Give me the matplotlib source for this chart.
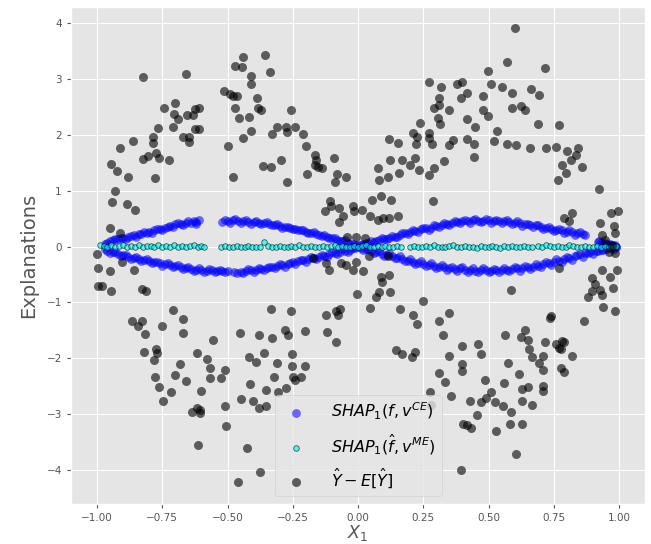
import matplotlib
matplotlib.use("Agg")
import matplotlib.pyplot as plt

# ---- data: Y_hat - E[Y_hat] (black) ----
bx1 = [-0.824,-0.658,-0.946,-0.923,-0.911,-0.863,-0.882,-0.931,-0.942,-0.887,-0.853,-0.951,-0.911,-0.824,-0.806,-0.786,-0.785,-0.773,-0.764,-0.777,-0.767,-0.744,-0.723,-0.700,-0.707,-0.691,-0.709,-0.672,-0.655,-0.649,-0.647,-0.631,-0.624,-0.611,-0.626,-0.611,-0.512,-0.490,-0.481,-0.465,-0.471,-0.446,-0.442,-0.409,-0.409,-0.389,-0.471,-0.455,-0.416,-0.384,-0.373,-0.412,-0.440,-0.497,-0.478,-0.356,-0.338,-0.363,-0.335,-0.329,-0.312,-0.277,-0.272,-0.258,-0.243,-0.211,-0.198,-0.297,-0.274,-0.195,-0.165,-0.160,-0.166,-0.153,-0.137,-0.092,-0.079,-0.087,-0.048,-0.109,-0.125,-0.102,-0.073,-0.058,-0.073,-0.020,-0.016,-0.043,-0.007]
by1 = [3.03,3.10,1.48,1.35,1.77,1.89,1.25,1.00,0.79,0.76,0.66,0.34,0.24,1.57,1.63,1.97,1.85,1.67,1.58,1.22,2.12,2.48,1.56,2.57,2.37,2.29,2.15,1.96,2.35,1.97,1.87,2.36,2.46,2.49,2.10,2.11,2.79,2.73,2.69,2.69,3.24,3.21,3.40,3.06,2.91,2.66,2.48,2.30,2.32,2.49,2.45,2.07,1.94,1.81,1.25,3.43,3.13,1.45,1.42,2.01,2.15,2.15,2.06,2.45,2.14,2.01,1.81,1.55,1.16,1.30,1.64,1.55,1.46,1.43,1.40,1.58,1.30,1.16,1.24,0.82,0.64,0.72,0.70,0.55,0.44,0.73,0.64,0.17,0.17]
bx2 = [0.601,0.572,0.718,0.496,0.270,0.317,0.381,0.398,0.508,0.553,0.588,0.664,0.695,0.419,0.394,0.479,0.311,0.292,0.311,0.347,0.479,0.499,0.588,0.623,0.640,0.308,0.313,0.419,0.448,0.238,0.212,0.226,0.270,0.273,0.283,0.222,0.120,0.152,0.365,0.350,0.419,0.445,0.445,0.521,0.534,0.572,0.604,0.657,0.690,0.769,0.721,0.757,0.799,0.843,0.835,0.816,0.782,0.858,0.797,0.767,0.123,0.169,0.219,0.200,0.235,0.270,0.292,0.331,0.076,0.080,0.114,0.156,0.288,0.053,0.088,0.127,0.016,0.044,0.076,0.095,0.118,0.152,0.922,0.970,0.996,0.928,0.979,0.985,0.788,0.820,0.807,0.025,0.935]
by2 = [3.91,3.31,3.19,3.15,2.95,2.85,2.91,2.95,2.91,2.86,2.76,2.83,2.72,2.76,2.67,2.70,2.66,2.48,2.54,2.45,2.45,2.34,2.48,2.52,2.45,2.30,2.20,2.28,2.15,2.22,2.04,1.97,2.04,1.94,1.84,1.84,1.93,1.86,1.91,1.82,1.92,1.84,1.60,1.89,2.07,1.84,1.82,1.76,2.20,2.18,1.76,1.79,1.71,1.76,1.64,1.55,1.46,1.43,1.31,1.19,1.56,1.55,1.58,1.46,1.37,1.28,1.41,1.53,1.40,1.19,1.25,1.31,0.81,0.84,0.91,0.84,0.66,0.54,0.47,0.51,0.51,0.54,1.03,0.60,0.64,0.43,0.37,0.24,0.51,0.60,0.45,0.15,0.21]
bx3 = [-1.002,-0.997,-0.949,-0.904,-0.859,-0.172,-0.122,-0.111,-0.064,-0.045,-0.020,-0.007,0.018,0.041,0.114,0.088,0.118,0.769,0.934,0.896,0.966,0.992,0.960,0.985,0.947,0.972]
by3 = [-0.13,-0.39,-0.43,-0.27,-0.42,-0.20,-0.29,-0.42,-0.30,-0.33,-0.41,-0.27,-0.43,-0.17,-0.17,-0.54,-0.51,-0.39,-0.42,-0.57,-0.54,-0.42,-0.09,-0.12,0.12,0.03]
bx4 = [-0.997,-0.980,-0.946,-0.828,-0.812,-0.004,-0.709,-0.672,-0.868,-0.828,-0.843,-0.817,-0.751,-0.672,-0.554,-0.451,-0.381,-0.329,-0.334,-0.255,-0.280,-0.267,-0.203,-0.122,-0.086,-0.071,-0.077,-0.118,-0.086,-0.821,-0.776,-0.770,-0.780,-0.777,-0.761,-0.748,-0.715,-0.700,-0.684,-0.658,-0.618,-0.603,-0.580,-0.569,-0.569,-0.525,-0.510,-0.637,-0.618,-0.605,-0.607,-0.510,-0.507,-0.614,-0.427,-0.448,-0.413,-0.417,-0.392,-0.402,-0.381,-0.352,-0.360,-0.352,-0.312,-0.321,-0.305,-0.276,-0.253,-0.253,-0.249,-0.243,-0.218,-0.203,-0.376,-0.461]
by4 = [-0.70,-0.70,-0.79,-0.76,-0.80,-0.84,-1.13,-1.30,-1.34,-1.34,-1.42,-1.56,-1.43,-1.55,-1.67,-1.55,-1.58,-1.63,-1.12,-1.16,-1.49,-1.58,-1.52,-1.23,-1.15,-1.12,-1.23,-1.53,-1.70,-1.88,-1.84,-1.90,-2.03,-2.34,-2.52,-2.76,-2.60,-2.30,-2.10,-2.40,-1.90,-2.58,-2.02,-2.17,-2.36,-2.36,-2.21,-2.97,-2.89,-2.92,-2.98,-2.86,-3.21,-3.55,-3.61,-2.73,-2.46,-1.97,-2.06,-2.76,-2.89,-2.86,-1.90,-2.57,-2.08,-2.33,-2.60,-2.54,-1.92,-2.14,-2.33,-2.39,-2.34,-2.14,-4.04,-4.22]
bx5 = [0.046,0.067,0.080,0.092,0.123,0.162,0.212,0.225,0.247,0.146,0.169,0.207,0.220,0.309,0.326,0.349,0.349,0.311,0.334,0.277,0.280,0.358,0.400,0.400,0.400,0.461,0.470,0.487,0.508,0.489,0.470,0.428,0.455,0.403,0.419,0.432,0.525,0.557,0.527,0.562,0.576,0.559,0.587,0.581,0.606,0.394,0.629,0.587,0.623,0.638,0.651,0.655,0.665,0.617,0.627,0.629,0.652,0.667,0.693,0.708,0.710,0.708,0.710,0.718,0.734,0.741,0.757,0.770,0.782,0.788,0.779,0.820,0.779,0.791,0.865,0.881,0.896,0.907,0.935,0.928,0.938,0.977,0.983]
by5 = [-1.10,-0.90,-0.81,-0.64,-0.81,-1.12,-1.22,-1.39,-0.97,-1.86,-1.92,-1.97,-1.88,-1.34,-1.59,-1.19,-1.96,-2.27,-2.42,-2.60,-2.83,-2.67,-1.78,-2.10,-2.22,-1.75,-1.92,-2.39,-2.61,-2.71,-2.79,-2.76,-3.01,-3.17,-3.19,-3.24,-2.78,-2.85,-3.31,-1.59,-2.09,-2.45,-2.97,-3.17,-3.71,-4.00,-3.17,-0.77,-1.62,-1.49,-1.67,-1.84,-1.98,-2.28,-2.55,-2.77,-2.51,-2.83,-2.09,-1.96,-2.21,-2.49,-2.58,-1.71,-1.27,-1.24,-1.74,-1.82,-1.69,-1.70,-1.84,-1.96,-2.18,-2.24,-1.33,-0.90,-0.79,-0.67,-0.87,-0.78,-1.09,-0.75,-1.15]

# ---- data: SHAP_1(f, v^CE) (blue), upper and lower branches ----
ux = [-0.97,-0.95,-0.94,-0.92,-0.90,-0.88,-0.86,-0.84,-0.82,-0.80,-0.78,-0.76,-0.74,-0.72,-0.70,-0.68,-0.66,-0.64,-0.63,-0.62,-0.61,
      -0.52,-0.50,-0.48,-0.46,-0.44,-0.42,-0.40,-0.38,-0.36,-0.34,-0.32,-0.30,-0.28,-0.26,-0.24,-0.22,-0.20,-0.18,-0.16,-0.14,-0.12,-0.10,-0.08,-0.06,-0.04,-0.02,0.00,
      0.02,0.04,0.06,0.08,0.10,0.12,0.14,0.16,0.18,0.20,0.22,0.24,0.26,0.28,0.30,0.32,0.34,0.36,0.38,0.40,0.42,0.44,0.46,0.48,0.50,0.52,0.54,0.56,0.58,0.60,0.62,0.64,0.66,0.68,0.70,0.72,0.74,0.76,0.78,0.80,0.82,0.84,0.86,
      0.92,0.93,0.94,0.95,0.96,0.97,0.98,0.99]
uy = [0.04,0.10,0.12,0.14,0.16,0.17,0.20,0.22,0.26,0.27,0.29,0.32,0.33,0.37,0.40,0.40,0.43,0.42,0.45,0.44,0.47,
      0.44,0.46,0.47,0.45,0.46,0.44,0.44,0.43,0.42,0.41,0.39,0.37,0.35,0.33,0.32,0.29,0.27,0.25,0.22,0.19,0.17,0.15,0.12,0.10,0.07,0.05,0.02,
      0.04,0.07,0.09,0.12,0.14,0.16,0.18,0.21,0.24,0.26,0.28,0.31,0.33,0.34,0.37,0.39,0.40,0.42,0.44,0.46,0.45,0.47,0.45,0.46,0.47,0.45,0.46,0.45,0.44,0.42,0.43,0.40,0.39,0.38,0.35,0.34,0.32,0.30,0.29,0.27,0.26,0.24,0.23,
      0.08,0.06,0.05,0.04,0.03,0.02,0.01,0.00]
ux2 = [-0.96,-0.93,-0.91,-0.89,-0.87,-0.85,-0.83,-0.81,-0.79,-0.77,-0.75,-0.73,-0.71,-0.69,-0.67,-0.65,-0.62,
       -0.51,-0.49,-0.47,-0.45,-0.43,-0.41,-0.39,-0.37,-0.35,-0.33,-0.31,-0.29,-0.27,-0.25,-0.23,-0.21,-0.19,-0.17,-0.15,-0.13,-0.11,-0.09,-0.07,-0.05,-0.03,-0.01,
       0.01,0.03,0.05,0.07,0.09,0.11,0.13,0.15,0.17,0.19,0.21,0.23,0.25,0.27,0.29,0.31,0.33,0.35,0.37,0.39,0.41,0.43,0.45,0.47,0.49,0.51,0.53,0.55,0.57,0.59,0.61,0.63,0.65,0.67,0.69,0.71,0.73,0.75,0.77,0.79,0.81,0.83,0.85,0.87,
       0.925,0.935,0.945,0.955,0.965,0.975,0.985]
uy2 = [0.07,0.13,0.15,0.13,0.19,0.18,0.23,0.24,0.25,0.31,0.29,0.36,0.35,0.42,0.38,0.45,0.41,
       0.48,0.42,0.49,0.43,0.47,0.41,0.45,0.40,0.44,0.38,0.40,0.34,0.36,0.31,0.30,0.30,0.24,0.27,0.20,0.21,0.15,0.16,0.10,0.11,0.05,0.03,
       0.02,0.06,0.10,0.10,0.15,0.13,0.19,0.17,0.25,0.22,0.29,0.27,0.34,0.30,0.38,0.35,0.42,0.38,0.45,0.42,0.48,0.43,0.49,0.44,0.49,0.43,0.48,0.42,0.47,0.40,0.45,0.37,0.41,0.35,0.38,0.31,0.35,0.28,0.31,0.24,0.29,0.21,0.26,0.20,
       0.10,0.04,0.07,0.02,0.05,0.01,0.02]
lx = [-0.96,-0.94,-0.92,-0.90,-0.88,-0.86,-0.84,-0.82,-0.80,-0.78,-0.76,-0.74,-0.72,-0.70,-0.68,-0.66,-0.64,-0.62,-0.60,-0.58,-0.56,-0.54,-0.52,-0.50,
      -0.465,-0.45,-0.43,-0.41,-0.39,-0.37,-0.35,-0.33,-0.31,-0.29,-0.27,-0.25,-0.23,-0.21,-0.19,-0.17,-0.15,-0.13,-0.11,-0.09,-0.07,-0.05,-0.03,-0.01,
      0.01,0.03,0.05,0.07,0.09,0.11,0.13,0.15,0.17,0.19,0.21,0.23,0.25,0.27,0.29,0.31,0.33,0.35,0.37,0.39,0.41,0.43,0.45,0.47,0.49,0.51,0.53,0.55,0.57,0.59,0.61,0.63,0.65,0.67,0.69,0.71,0.73,0.75,0.77,0.79,0.81,0.83,0.85,0.87,0.89,0.91,0.93,0.95,0.97,0.99]
ly = [-0.08,-0.10,-0.13,-0.15,-0.18,-0.20,-0.22,-0.24,-0.26,-0.28,-0.30,-0.31,-0.33,-0.34,-0.36,-0.38,-0.40,-0.41,-0.41,-0.43,-0.42,-0.43,-0.44,-0.43,
      -0.48,-0.45,-0.43,-0.42,-0.41,-0.40,-0.39,-0.37,-0.35,-0.33,-0.31,-0.28,-0.26,-0.24,-0.22,-0.20,-0.18,-0.16,-0.14,-0.12,-0.10,-0.08,-0.06,-0.03,
      -0.03,-0.05,-0.08,-0.10,-0.13,-0.15,-0.17,-0.20,-0.22,-0.25,-0.27,-0.29,-0.31,-0.33,-0.35,-0.36,-0.37,-0.38,-0.40,-0.39,-0.41,-0.42,-0.43,-0.41,-0.42,-0.43,-0.42,-0.41,-0.42,-0.40,-0.39,-0.39,-0.37,-0.36,-0.34,-0.32,-0.30,-0.28,-0.26,-0.22,-0.20,-0.17,-0.14,-0.12,-0.10,-0.08,-0.06,-0.04,-0.02,-0.01]
lx2 = [-0.97,-0.95,-0.93,-0.91,-0.89,-0.87,-0.85,-0.83,-0.81,-0.79,-0.77,-0.75,-0.73,-0.71,-0.69,-0.67,-0.65,-0.63,-0.61,-0.59,-0.57,-0.55,-0.53,-0.51,
       -0.475,-0.44,-0.42,-0.40,-0.38,-0.36,-0.34,-0.32,-0.30,-0.28,-0.26,-0.24,-0.22,-0.20,-0.18,-0.16,-0.14,-0.12,-0.10,-0.08,-0.06,-0.04,-0.02,
       0.00,0.02,0.04,0.06,0.08,0.10,0.12,0.14,0.16,0.18,0.20,0.22,0.24,0.26,0.28,0.30,0.32,0.34,0.36,0.38,0.40,0.42,0.44,0.46,0.48,0.50,0.52,0.54,0.56,0.58,0.60,0.62,0.64,0.66,0.68,0.70,0.72,0.74,0.76,0.78,0.80,0.82,0.84,0.86,0.88,0.90,0.92,0.94,0.96,0.98]
ly2 = [-0.05,-0.12,-0.10,-0.17,-0.15,-0.22,-0.19,-0.26,-0.23,-0.30,-0.27,-0.34,-0.30,-0.37,-0.33,-0.40,-0.36,-0.43,-0.39,-0.45,-0.40,-0.46,-0.41,-0.46,
       -0.45,-0.47,-0.40,-0.45,-0.38,-0.42,-0.36,-0.39,-0.32,-0.36,-0.29,-0.31,-0.24,-0.27,-0.19,-0.22,-0.15,-0.18,-0.09,-0.13,-0.05,-0.09,-0.02,
       -0.01,-0.06,-0.04,-0.11,-0.07,-0.16,-0.12,-0.21,-0.17,-0.26,-0.22,-0.31,-0.26,-0.35,-0.30,-0.39,-0.33,-0.42,-0.36,-0.44,-0.37,-0.45,-0.39,-0.46,-0.39,-0.46,-0.40,-0.45,-0.38,-0.44,-0.36,-0.43,-0.34,-0.40,-0.31,-0.37,-0.27,-0.33,-0.23,-0.28,-0.18,-0.24,-0.15,-0.19,-0.11,-0.13,-0.08,-0.06,-0.03,-0.04]

# ---- data: SHAP_1(f_hat, v^ME) (cyan) ----
cx1 = [-0.99,-0.975,-0.96,-0.945,-0.93,-0.915,-0.90,-0.885,-0.87,-0.855,-0.84,-0.825,-0.81,-0.795,-0.78,-0.765,-0.75,-0.735,-0.72,-0.705,-0.69,-0.675,-0.66,-0.645,-0.63,-0.615,-0.60,-0.59]
cy1 = [0.03,0.01,0.00,0.02,-0.01,0.01,0.02,0.00,0.01,-0.01,0.02,0.00,0.01,0.01,-0.01,0.02,0.00,0.01,0.00,0.02,-0.01,0.01,0.00,0.01,0.02,0.00,0.01,-0.01]
cx2 = [-0.525,-0.51,-0.495,-0.48,-0.465,-0.45,-0.435,-0.42,-0.405,-0.39,-0.375,-0.36,-0.345,-0.33,-0.315,-0.30,-0.285,-0.27,-0.255,-0.24,-0.225,-0.21,-0.195,-0.18,-0.165,-0.15,-0.135,-0.12,-0.105,-0.09,-0.075,-0.06,-0.045,-0.03,-0.015,0.0,0.015,0.03,0.045,0.06,0.075,0.09,0.105,0.12,0.135,0.15,0.165]
cy2 = [0.00,0.01,-0.01,0.00,0.01,0.00,-0.01,0.01,0.00,-0.01,0.00,0.09,0.01,-0.01,0.00,0.01,0.00,-0.01,0.01,0.00,0.02,-0.01,0.00,0.01,0.00,-0.01,0.01,0.00,0.01,0.02,0.00,0.01,-0.01,0.00,0.01,0.00,0.01,0.02,0.00,-0.01,0.01,0.00,0.01,0.00,-0.01,0.01,0.00]
cx3 = [0.20,0.215,0.23,0.245,0.26,0.275,0.29,0.305,0.32,0.335,0.35,0.365,0.38,0.395,0.41,0.425,0.44,0.455,0.47,0.485,0.50,0.515,0.53,0.545,0.56,0.575,0.59,0.605,0.62,0.635,0.65,0.665]
cy3 = [0.00,0.01,0.00,-0.01,0.01,0.00,0.02,0.00,-0.01,0.00,0.01,0.02,0.00,-0.01,0.01,0.00,0.00,-0.02,0.01,0.00,-0.01,0.01,0.00,-0.02,0.01,0.00,0.01,-0.01,0.00,0.01,0.00,-0.01]
cx4 = [0.69,0.705,0.72,0.735,0.75,0.765,0.78,0.795,0.81,0.825,0.84,0.855,0.87,0.885,0.90,0.915,0.93,0.945,0.96,0.975,0.99]
cy4 = [0.01,0.00,0.02,0.01,0.00,0.01,-0.01,0.00,0.02,0.01,0.00,-0.01,0.01,0.00,0.00,0.01,0.00,0.01,-0.01,0.00,0.01]

labels = [r'$SHAP_1(f, v^{CE})$', r'$SHAP_1(\hat{f}, v^{ME})$', r'$\hat{Y} - E[\hat{Y}]$']
xticks = [-1.0, -0.75, -0.5, -0.25, 0.0, 0.25, 0.5, 0.75, 1.0]
yticks = [-4, -3, -2, -1, 0, 1, 2, 3, 4]

plt.style.use('ggplot')
fig = plt.figure(figsize=(6.51, 5.44), dpi=100)
ax = fig.add_axes([0.109, 0.0735, 0.882, 0.9135])

ax.scatter(ux + ux2 + lx + lx2, uy + uy2 + ly + ly2, s=40, c='blue', alpha=0.55,
           linewidths=0, label=labels[0])
ax.scatter(cx1 + cx2 + cx3 + cx4, cy1 + cy2 + cy3 + cy4, s=16, c='cyan', edgecolors='black',
           linewidths=0.6, alpha=0.65, label=labels[1])
ax.scatter(bx1 + bx2 + bx3 + bx4 + bx5, by1 + by2 + by3 + by4 + by5, s=42, c='black',
           alpha=0.6, linewidths=0, label=labels[2])

ax.set_xlim(-1.1, 1.1)
ax.set_ylim(-4.61, 4.29)
ax.set_xticks(xticks)
ax.set_yticks(yticks)
ax.tick_params(labelsize=7.5, length=3)
ax.set_xlabel(r'$X_1$', fontsize=12.5, labelpad=0)
ax.set_ylabel('Explanations', fontsize=14, labelpad=6)
ax.legend(loc='lower center', fontsize=11.5, labelspacing=0.65, handletextpad=1.2, borderpad=0.35)

fig.savefig('out.png', dpi=100)
